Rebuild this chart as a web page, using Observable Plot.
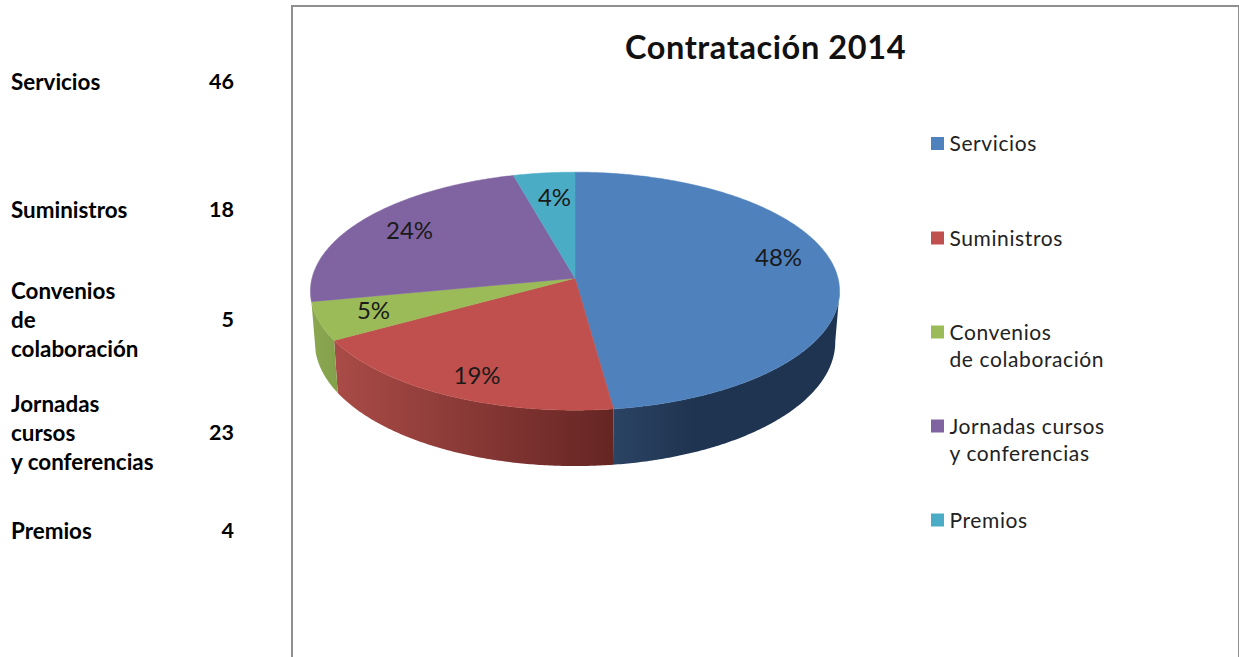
<!DOCTYPE html>
<html lang="es">
<head>
<meta charset="utf-8">
<script src="https://cdn.jsdelivr.net/npm/d3@7"></script>
<script src="https://cdn.jsdelivr.net/npm/@observablehq/plot@0.6"></script>
<style>
  html, body { margin: 0; padding: 0; background: #fff; overflow: hidden; }
  svg { display: block; }
  .wide text { letter-spacing: 0.6px; }
</style>
</head>
<body>
<div id="chart"></div>
<script>
// ---- data ----
const title = "Contratación 2014";
const categories = ["Servicios", "Suministros", "Convenios de colaboración", "Jornadas cursos y conferencias", "Premios"];
const values = [46, 18, 5, 23, 4];
const tableLabels = ["Servicios", "Suministros", "Convenios\nde\ncolaboración", "Jornadas\ncursos\ny conferencias", "Premios"];
const legendLabels = ["Servicios", "Suministros", "Convenios\nde colaboración", "Jornadas cursos\ny conferencias", "Premios"];
const colors = ["#4F81BD", "#C0504D", "#9BBB59", "#8064A2", "#4BACC6"];

// ---- layout ----
const W = 1239, H = 657;
const top3d = {cx: 574.5, cy: 277.7, a: 263, b: 117.6, k: 0.109};
const bottom3d = {cx: 574.5, cy: 327.4, a: 258.6, b: 122.6, k: 0.1126};
const wallStops = [
  [[613, "#2B4364"], [693, "#1F3450"]],
  [[337, "#A94B47"], [613, "#652523"]],
  [[315, "#8AA650"], [338, "#83A04B"]],
  null, null
];
const tableRowY = [80, 208, 318, 431, 529];
const tableValueY = [82, 210, 320, 433, 531];
const legendRowY = [141.5, 236.5, 344, 438, 518.5];
const legendSwatchY = [143.5, 238, 332, 426, 520];
const pctX = [778, 476.5, 373, 409, 554];
const pctY = [258, 376, 311, 231, 198];

// ---- geometry from values ----
const total = d3.sum(values);
let running = 0;
const slices = values.map((v, i) => {
  const start = running / total * 360;
  running += v;
  return {i, start, end: running / total * 360, pct: Math.round(v / total * 100) + "%"};
});
const project = (p, deg) => {
  const t = deg * Math.PI / 180;
  const x = Math.sin(t), yy = -Math.cos(t), d = 1 - p.k * yy;
  return [p.cx + p.a * x / d, p.cy + p.b * yy / d];
};
const sweep = (from, to) => {
  const n = Math.max(2, Math.ceil((to - from) * 2));
  return d3.range(n + 1).map(j => from + (to - from) * j / n);
};

const faces = slices.flatMap(s => {
  const pts = [[top3d.cx, top3d.cy], ...sweep(s.start, s.end).map(a => project(top3d, a)), [top3d.cx, top3d.cy]];
  return pts.map(([x, y]) => ({id: s.i, x, y, color: colors[s.i]}));
});

// first angle at which the rim turns toward the viewer (silhouette of the disc)
const silhouette = 90 + Math.asin(top3d.k) * 180 / Math.PI;
const walls = slices.filter(s => wallStops[s.i]).flatMap(s => {
  const angles = sweep(Math.max(s.start, silhouette), s.end);
  const pts = [...angles.map(a => project(top3d, a)), ...angles.slice().reverse().map(a => project(bottom3d, a))];
  pts.push(pts[0]);
  return pts.map(([x, y]) => ({id: s.i, x, y}));
});

const gradients = () => {
  const defs = d3.create("svg:defs");
  wallStops.forEach((stops, i) => {
    if (!stops) return;
    const g = defs.append("linearGradient").attr("id", `wall${i}`)
      .attr("gradientUnits", "userSpaceOnUse")
      .attr("x1", stops[0][0]).attr("x2", stops[1][0]).attr("y1", 0).attr("y2", 0);
    g.append("stop").attr("offset", 0).attr("stop-color", stops[0][1]);
    g.append("stop").attr("offset", 1).attr("stop-color", stops[1][1]);
  });
  return defs.node();
};

const legendRows = categories.map((c, i) => ({label: legendLabels[i], y: legendRowY[i], sy: legendSwatchY[i], color: colors[i]}));
const tableRows = categories.map((c, i) => ({label: tableLabels[i], value: values[i], y: tableRowY[i], vy: tableValueY[i]}));
const pctRows = slices.map(s => ({x: pctX[s.i], y: pctY[s.i], text: s.pct}));

const frameColor = "#8f8f8f";
const font = "Lato, Carlito, Calibri, sans-serif";

const chart = Plot.plot({
  width: W, height: H,
  margin: 0,
  x: {domain: [0, W], range: [0, W], axis: null},
  y: {domain: [0, H], range: [0, H], axis: null},
  color: {type: "identity"},
  style: {background: "#fff", fontFamily: font},
  marks: [
    gradients,
    // chart frame
    Plot.ruleY([5.5], {x1: 291, x2: W, stroke: frameColor, strokeWidth: 2}),
    Plot.ruleX([291.5], {y1: 5, y2: H, stroke: frameColor, strokeWidth: 2}),
    Plot.ruleX([1238], {y1: 5, y2: H, stroke: frameColor, strokeWidth: 1}),
    // pie side walls, then top faces
    ...slices.filter(s => wallStops[s.i]).map(s =>
      Plot.line(walls.filter(d => d.id === s.i), {x: "x", y: "y", fill: `url(#wall${s.i})`, stroke: "none"})),
    Plot.line(faces, {x: "x", y: "y", z: "id", fill: "color", stroke: "color", strokeWidth: 0.5}),
    // percentages
    Plot.text(pctRows, {x: "x", y: "y", text: "text", fontSize: 24, fill: "#1a1a1a"}),
    // title
    Plot.text([title], {x: 765, y: 48, text: d => d, fontSize: 32.5, fontWeight: 700, fill: "#111", className: "wide"}),
    // legend
    Plot.rect(legendRows, {x1: 931, x2: 944, y1: d => d.sy - 6.5, y2: d => d.sy + 6.5, fill: "color"}),
    Plot.text(legendRows, {x: 949, y: "y", text: "label", textAnchor: "start", fontSize: 21, lineHeight: 1.31, fill: "#222", className: "wide"}),
    // left-hand table
    Plot.text(tableRows, {x: 10.5, y: "y", text: "label", textAnchor: "start", fontSize: 22.4, fontWeight: 700, lineHeight: 1.31, fill: "#000"}),
    Plot.text(tableRows, {x: 233.5, y: "vy", text: d => String(d.value), textAnchor: "end", fontSize: 21.5, fontWeight: 700, fill: "#000"})
  ]
});
document.getElementById("chart").append(chart);
</script>
</body>
</html>
